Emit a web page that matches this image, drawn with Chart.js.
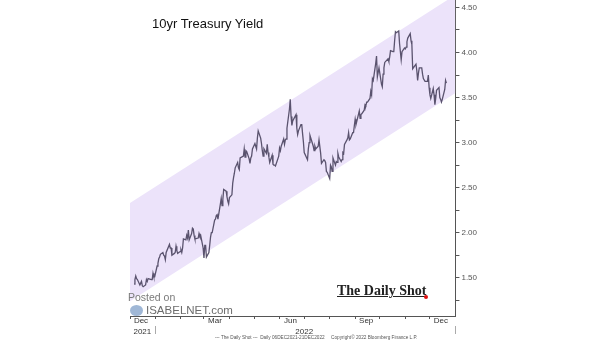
<!DOCTYPE html>
<html>
<head>
<meta charset="utf-8">
<script src="https://cdn.jsdelivr.net/npm/chart.js@4"></script>
<style>
  body { margin: 0; background: #fff; }
  #wrap { position: relative; width: 605px; height: 341px; font-family: "Liberation Sans", Arial, sans-serif; }
  #wrap canvas { position: absolute; left: 0; top: 0; }
  .txt { position: absolute; white-space: nowrap; }
  #title { left: 152px; top: 16px; font-size: 13px; color: #111; }
  #posted { left: 128px; top: 291px; font-size: 10.5px; color: #7a7a7a; }
  #isabel { left: 146px; top: 304px; font-size: 11.5px; color: #6c6c6c; }
  #logo { left: 130px; top: 305px; width: 13px; height: 11px; border-radius: 50%; background: #9fb7d6; }
  #dshot { left: 337px; top: 283px; font-family: "Liberation Serif", "DejaVu Serif", serif; font-weight: bold; font-size: 14px; color: #222; text-decoration: underline; text-decoration-thickness: 1px; }
  #dot { left: 424px; top: 295px; width: 4px; height: 4px; border-radius: 50%; background: #e01010; }
  #foot { left: 215px; top: 335px; font-size: 4.7px; color: #555; font-family: "Liberation Sans Narrow", "Liberation Sans", sans-serif; }
</style>
</head>
<body>
<div id="wrap">
  <canvas id="myChart" width="605" height="341"></canvas>
  <div class="txt" id="title">10yr Treasury Yield</div>
  <div class="txt" id="posted">Posted on</div>
  <div class="txt" id="logo"></div>
  <div class="txt" id="isabel">ISABELNET.com</div>
  <div class="txt" id="dshot">The Daily Shot</div>
  <div class="txt" id="dot"></div>
  <div class="txt" id="foot">--- The Daily Shot ---&nbsp; Daily 06DEC2021-21DEC2022 &nbsp;&nbsp;&nbsp; Copyright© 2022 Bloomberg Finance L.P.</div>
</div>
<script>
const dates = [
  "2021-12-06","2021-12-07","2021-12-08","2021-12-09","2021-12-10","2021-12-13","2021-12-14","2021-12-15","2021-12-16","2021-12-17",
  "2021-12-20","2021-12-21","2021-12-22","2021-12-23","2021-12-27","2021-12-28","2021-12-29","2021-12-30","2021-12-31",
  "2022-01-03","2022-01-04","2022-01-05","2022-01-06","2022-01-07","2022-01-10","2022-01-11","2022-01-12","2022-01-13","2022-01-14",
  "2022-01-18","2022-01-19","2022-01-20","2022-01-21","2022-01-24","2022-01-25","2022-01-26","2022-01-27","2022-01-28","2022-01-31",
  "2022-02-01","2022-02-02","2022-02-03","2022-02-04","2022-02-07","2022-02-08","2022-02-09","2022-02-10","2022-02-11","2022-02-14",
  "2022-02-15","2022-02-16","2022-02-17","2022-02-18","2022-02-22","2022-02-23","2022-02-24","2022-02-25","2022-02-28",
  "2022-03-01","2022-03-02","2022-03-03","2022-03-04","2022-03-07","2022-03-08","2022-03-09","2022-03-10","2022-03-11","2022-03-14",
  "2022-03-15","2022-03-16","2022-03-17","2022-03-18","2022-03-21","2022-03-22","2022-03-23","2022-03-24","2022-03-25","2022-03-28",
  "2022-03-29","2022-03-30","2022-03-31","2022-04-01","2022-04-04","2022-04-05","2022-04-06","2022-04-07","2022-04-08","2022-04-11",
  "2022-04-12","2022-04-13","2022-04-14","2022-04-18","2022-04-19","2022-04-20","2022-04-21","2022-04-22","2022-04-25","2022-04-26",
  "2022-04-27","2022-04-28","2022-04-29","2022-05-02","2022-05-03","2022-05-04","2022-05-05","2022-05-06","2022-05-09","2022-05-10",
  "2022-05-11","2022-05-12","2022-05-13","2022-05-16","2022-05-17","2022-05-18","2022-05-19","2022-05-20","2022-05-23","2022-05-24",
  "2022-05-25","2022-05-26","2022-05-27","2022-05-31","2022-06-01","2022-06-02","2022-06-03","2022-06-06","2022-06-07","2022-06-08",
  "2022-06-09","2022-06-10","2022-06-13","2022-06-14","2022-06-15","2022-06-16","2022-06-17","2022-06-21","2022-06-22","2022-06-23",
  "2022-06-24","2022-06-27","2022-06-28","2022-06-29","2022-06-30","2022-07-01","2022-07-05","2022-07-06","2022-07-07","2022-07-08",
  "2022-07-11","2022-07-12","2022-07-13","2022-07-14","2022-07-15","2022-07-18","2022-07-19","2022-07-20","2022-07-21","2022-07-22",
  "2022-07-25","2022-07-26","2022-07-27","2022-07-28","2022-07-29","2022-08-01","2022-08-02","2022-08-03","2022-08-04","2022-08-05",
  "2022-08-08","2022-08-09","2022-08-10","2022-08-11","2022-08-12","2022-08-15","2022-08-16","2022-08-17","2022-08-18","2022-08-19",
  "2022-08-22","2022-08-23","2022-08-24","2022-08-25","2022-08-26","2022-08-29","2022-08-30","2022-08-31","2022-09-01","2022-09-02",
  "2022-09-06","2022-09-07","2022-09-08","2022-09-09","2022-09-12","2022-09-13","2022-09-14","2022-09-15","2022-09-16","2022-09-19",
  "2022-09-20","2022-09-21","2022-09-22","2022-09-23","2022-09-26","2022-09-27","2022-09-28","2022-09-29","2022-09-30","2022-10-03",
  "2022-10-04","2022-10-05","2022-10-06","2022-10-07","2022-10-11","2022-10-12","2022-10-13","2022-10-14","2022-10-17","2022-10-18",
  "2022-10-19","2022-10-20","2022-10-21","2022-10-24","2022-10-25","2022-10-26","2022-10-27","2022-10-28","2022-10-31","2022-11-01",
  "2022-11-02","2022-11-03","2022-11-04","2022-11-07","2022-11-08","2022-11-09","2022-11-10","2022-11-14","2022-11-15","2022-11-16",
  "2022-11-17","2022-11-18","2022-11-21","2022-11-22","2022-11-23","2022-11-25","2022-11-28","2022-11-29","2022-11-30","2022-12-01",
  "2022-12-02","2022-12-05","2022-12-06","2022-12-07","2022-12-08","2022-12-09","2022-12-12","2022-12-13","2022-12-14","2022-12-15",
  "2022-12-16","2022-12-19","2022-12-20","2022-12-21"
];
const yields = [
  1.43,1.48,1.52,1.49,1.48,1.42,1.44,1.46,1.41,1.40,
  1.42,1.48,1.46,1.49,1.48,1.48,1.55,1.51,1.51,
  1.63,1.66,1.71,1.73,1.76,1.78,1.75,1.74,1.70,1.78,
  1.87,1.83,1.83,1.75,1.77,1.78,1.85,1.80,1.77,1.79,
  1.81,1.78,1.83,1.93,1.92,1.97,1.94,2.03,1.92,1.99,
  2.05,2.04,1.97,1.93,1.94,1.99,1.96,1.97,1.83,
  1.72,1.86,1.86,1.73,1.78,1.86,1.95,2.00,2.00,2.14,
  2.15,2.19,2.20,2.15,2.32,2.38,2.30,2.37,2.48,2.46,
  2.40,2.35,2.32,2.39,2.42,2.55,2.61,2.66,2.72,2.78,
  2.72,2.70,2.83,2.85,2.93,2.84,2.91,2.90,2.82,2.77,
  2.83,2.85,2.93,2.99,2.96,2.93,3.05,3.13,3.05,2.99,
  2.91,2.85,2.93,2.88,2.98,2.89,2.84,2.78,2.86,2.76,
  2.75,2.75,2.74,2.85,2.94,2.91,2.96,3.04,2.98,3.03,
  3.04,3.16,3.37,3.48,3.29,3.19,3.24,3.31,3.16,3.09,
  3.13,3.20,3.20,3.10,3.01,2.89,2.81,2.93,3.00,3.08,
  2.99,2.96,2.91,2.96,2.93,2.96,3.03,3.03,2.88,2.77,
  2.81,2.80,2.78,2.68,2.67,2.60,2.75,2.73,2.68,2.83,
  2.75,2.79,2.78,2.88,2.84,2.79,2.81,2.89,2.88,2.98,
  3.03,3.05,3.11,3.03,3.04,3.11,3.11,3.19,3.26,3.20,
  3.35,3.27,3.31,3.32,3.36,3.42,3.41,3.45,3.45,3.49,
  3.57,3.53,3.71,3.69,3.88,3.96,3.73,3.78,3.83,3.65,
  3.62,3.76,3.83,3.89,3.93,3.90,3.95,4.02,4.01,4.01,
  4.13,4.23,4.22,4.24,4.10,4.01,3.92,4.01,4.05,4.04,
  4.06,4.12,4.16,4.21,4.13,4.09,3.82,3.87,3.80,3.69,
  3.77,3.83,3.83,3.76,3.71,3.68,3.68,3.75,3.61,3.53,
  3.49,3.60,3.53,3.42,3.49,3.58,3.61,3.50,3.48,3.45,
  3.48,3.59,3.69,3.66
];

// trend channel drawn behind the series
const channelDates = ["2021-12-01", "2023-01-01"];
const channelUpper = [2.33, 4.64];
const channelLower = [1.24, 3.55];

const monthTicks = ["2021-12-01","2022-01-01","2022-02-01","2022-03-01","2022-04-01","2022-05-01","2022-06-01",
  "2022-07-01","2022-08-01","2022-09-01","2022-10-01","2022-11-01","2022-12-01"];
const monthLabels = ["Dec","","","Mar","","","Jun","","","Sep","","","Dec"];
// year row: labels centred on each year, separators at year boundaries
const yearTicks = ["2021-12-16", "2022-01-01", "2022-07-01", "2023-01-01"];
const yearLabels = ["2021", "", "2022", ""];
const yTicks = [1.25,1.5,1.75,2,2.25,2.5,2.75,3,3.25,3.5,3.75,4,4.25,4.5];

const day0 = Date.parse("2021-12-01");
const toDay = (d) => (Date.parse(d) - day0) / 86400000;

const series = dates.map((d, i) => ({ x: toDay(d), y: yields[i] }));
const upper = channelDates.map((d, i) => ({ x: toDay(d), y: channelUpper[i] }));
const lower = channelDates.map((d, i) => ({ x: toDay(d), y: channelLower[i] }));

const tickFont = { family: "'Liberation Sans Narrow', 'Liberation Sans', sans-serif", size: 8 };

new Chart("myChart", {
  type: "line",
  data: {
    datasets: [
      {
        data: series,
        borderColor: "#5a536e",
        borderWidth: 1.3,
        pointRadius: 0,
        fill: false,
        order: 0,
      },
      {
        data: lower,
        borderColor: "rgba(0,0,0,0)",
        pointRadius: 0,
        fill: false,
        order: 2,
      },
      {
        data: upper,
        borderColor: "rgba(0,0,0,0)",
        backgroundColor: "#ece3fa",
        pointRadius: 0,
        fill: "-1",
        order: 1,
      },
    ],
  },
  options: {
    responsive: false,
    animation: false,
    devicePixelRatio: 1,
    layout: { padding: { left: 130, right: 126, top: 0, bottom: 3 } },
    plugins: {
      legend: { display: false },
      tooltip: { enabled: false },
    },
    scales: {
      x: {
        type: "linear",
        min: 0,
        max: toDay("2023-01-01"),
        afterBuildTicks: (scale) => {
          scale.ticks = monthTicks.map((d) => ({ value: toDay(d) }));
        },
        afterFit: (scale) => {
          scale.height = 10;
        },
        ticks: {
          autoSkip: false,
          maxRotation: 0,
          labelOffset: 11,
          padding: -3,
          color: "#333",
          font: tickFont,
          callback: (v, i) => monthLabels[i],
        },
        grid: { drawOnChartArea: false, tickLength: 3, color: "#555" },
        border: { color: "#555" },
      },
      xYear: {
        type: "linear",
        position: "bottom",
        min: 0,
        max: toDay("2023-01-01"),
        afterBuildTicks: (scale) => {
          scale.ticks = yearTicks.map((d) => ({ value: toDay(d) }));
        },
        afterFit: (scale) => {
          scale.height = 12;
        },
        ticks: {
          autoSkip: false,
          maxRotation: 0,
          padding: -7,
          color: "#333",
          font: tickFont,
          callback: (v, i) => yearLabels[i],
        },
        grid: {
          drawOnChartArea: false,
          tickLength: 8,
          color: (ctx) => (ctx.index !== undefined && yearLabels[ctx.index] === "" ? "#aaa" : "rgba(0,0,0,0)"),
        },
        border: { display: false },
      },
      y: {
        position: "right",
        min: 1.075,
        max: 4.583,
        afterBuildTicks: (scale) => {
          scale.ticks = yTicks.map((v) => ({ value: v }));
        },
        afterFit: (scale) => {
          scale.paddingTop = 0;
          scale.paddingBottom = 0;
        },
        ticks: {
          padding: 2,
          color: "#555",
          font: tickFont,
          callback: (v) => (v * 2 === Math.round(v * 2) ? v.toFixed(2) : ""),
        },
        grid: { drawOnChartArea: false, tickLength: 4, color: "#555" },
        border: { color: "#555" },
      },
    },
  },
});
</script>
</body>
</html>
